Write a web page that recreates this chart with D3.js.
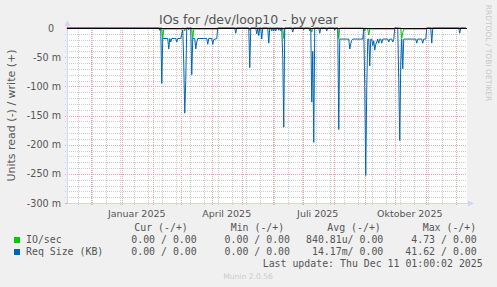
<!DOCTYPE html>
<html lang="de">
<head>
  <meta charset="UTF-8">
  <title>IOs for /dev/loop10 - by year</title>
  <script src="https://d3js.org/d3.v7.min.js"></script>
  <style>
    html, body { margin: 0; padding: 0; background: #f0f0f0; }
    svg { display: block; }
    text { font-family: "DejaVu Sans", sans-serif; fill: #555; }
    .mono { font-family: "DejaVu Sans Mono", monospace; font-size: 9.9px; white-space: pre; }
  </style>
</head>
<body>
<svg id="chart" width="497" height="287"></svg>
<script>
  // --- données (valeurs en milli-unités, côté lecture = négatif) ---
  const ioSec = [
    ["2024-11-07", 0], ["2025-02-10", 0], ["2025-02-11", -18], ["2025-02-12", -1.7],
    ["2025-03-02", -1.7], ["2025-03-03", 0], ["2025-03-04", 0], ["2025-03-05", -5],
    ["2025-03-06", 0], ["2025-03-12", 0], ["2025-03-13", -18], ["2025-03-14", -1.7],
    ["2025-04-06", -1.7], ["2025-04-07", 0], ["2025-05-08", 0], ["2025-05-09", -4],
    ["2025-05-10", 0], ["2025-06-11", 0], ["2025-06-12", -18], ["2025-06-13", 0],
    ["2025-07-09", 0], ["2025-07-10", -7], ["2025-07-11", 0], ["2025-08-05", 0],
    ["2025-08-06", -18], ["2025-08-07", 0], ["2025-08-31", 0], ["2025-09-01", -5],
    ["2025-09-02", 0], ["2025-09-04", -1.7], ["2025-09-05", -12], ["2025-09-06", -1.7],
    ["2025-09-30", -1.7], ["2025-10-01", 0], ["2025-10-07", 0], ["2025-10-08", -18],
    ["2025-10-09", -8], ["2025-10-10", -1.7], ["2025-11-01", -1.7], ["2025-11-02", 0],
    ["2025-12-11", 0]
  ];

  const reqSize = [
    ["2024-11-07", 0], ["2025-02-07", 0], ["2025-02-08", -4], ["2025-02-09", 0],
    ["2025-02-10", -95], ["2025-02-11", -18], ["2025-02-16", -18], ["2025-02-17", -36],
    ["2025-02-18", -18], ["2025-02-19", -24], ["2025-02-20", -18], ["2025-02-24", -18],
    ["2025-02-25", -24], ["2025-02-26", -18], ["2025-03-01", -18], ["2025-03-03", -3],
    ["2025-03-04", -60], ["2025-03-05", -146], ["2025-03-06", -90], ["2025-03-07", 0],
    ["2025-03-08", 0], ["2025-03-09", -3], ["2025-03-10", 0], ["2025-03-11", 0],
    ["2025-03-12", -80], ["2025-03-13", -18], ["2025-03-15", -18], ["2025-03-16", -36],
    ["2025-03-17", -24], ["2025-03-18", -18], ["2025-03-27", -18], ["2025-03-28", -28],
    ["2025-03-29", -18], ["2025-04-01", -18], ["2025-04-02", -28], ["2025-04-03", -20],
    ["2025-04-06", -18], ["2025-04-07", 0], ["2025-04-24", 0], ["2025-04-25", -9],
    ["2025-04-26", 0], ["2025-05-08", 0], ["2025-05-09", -68], ["2025-05-10", 0],
    ["2025-05-15", 0], ["2025-05-16", -10], ["2025-05-17", 0], ["2025-05-18", -13],
    ["2025-05-19", 0], ["2025-05-20", 0], ["2025-05-21", -19], ["2025-05-22", 0],
    ["2025-05-27", 0], ["2025-05-28", -26], ["2025-05-29", 0], ["2025-05-30", 0],
    ["2025-05-31", -5], ["2025-06-01", 0], ["2025-06-02", -5], ["2025-06-03", 0],
    ["2025-06-04", -5], ["2025-06-05", 0], ["2025-06-06", 0], ["2025-06-07", -4],
    ["2025-06-08", 0], ["2025-06-09", -5], ["2025-06-10", 0], ["2025-06-11", -50],
    ["2025-06-12", -170], ["2025-06-13", 0], ["2025-06-20", 0], ["2025-06-21", -7],
    ["2025-06-22", 0], ["2025-07-01", 0], ["2025-07-02", -3], ["2025-07-03", 0],
    ["2025-07-07", 0], ["2025-07-08", -5], ["2025-07-09", 0], ["2025-07-10", -127],
    ["2025-07-11", -40], ["2025-07-12", -196], ["2025-07-13", 0], ["2025-07-17", 0],
    ["2025-07-18", -9], ["2025-07-19", 0], ["2025-07-24", 0], ["2025-07-25", -5],
    ["2025-07-26", 0], ["2025-08-01", 0], ["2025-08-02", -4], ["2025-08-03", 0],
    ["2025-08-05", 0], ["2025-08-06", -174], ["2025-08-07", -19], ["2025-08-16", -19],
    ["2025-08-17", -36], ["2025-08-18", -27], ["2025-08-19", -21], ["2025-08-20", -19],
    ["2025-08-30", -19], ["2025-08-31", 0], ["2025-09-01", -100], ["2025-09-02", -253],
    ["2025-09-03", -100], ["2025-09-04", -19], ["2025-09-05", -19], ["2025-09-06", -65],
    ["2025-09-07", -19], ["2025-09-08", -19], ["2025-09-09", -30], ["2025-09-10", -22],
    ["2025-09-11", -38], ["2025-09-12", -28], ["2025-09-13", -24], ["2025-09-14", -19],
    ["2025-09-15", -26], ["2025-09-16", -19], ["2025-09-17", -19], ["2025-09-18", -26],
    ["2025-09-19", -19], ["2025-09-24", -19], ["2025-09-25", -24], ["2025-09-26", -19],
    ["2025-09-28", -19], ["2025-09-29", -24], ["2025-09-30", -20], ["2025-10-01", 0],
    ["2025-10-04", 0], ["2025-10-05", -90], ["2025-10-06", -193], ["2025-10-07", -60],
    ["2025-10-08", -19], ["2025-10-09", -70], ["2025-10-10", -19], ["2025-10-22", -19],
    ["2025-10-23", -26], ["2025-10-24", -19], ["2025-10-28", -19], ["2025-10-29", -26],
    ["2025-10-30", -19], ["2025-11-01", -19], ["2025-11-02", 0], ["2025-11-06", 0],
    ["2025-11-07", -26], ["2025-11-08", 0], ["2025-12-04", 0], ["2025-12-05", -9],
    ["2025-12-06", 0], ["2025-12-11", 0]
  ];

  const yTicks = [0, -50, -100, -150, -200, -250, -300];
  const yTickLabels = ["0", "-50 m", "-100 m", "-150 m", "-200 m", "-250 m", "-300 m"];
  const xLabelMonths = ["2025-01-01", "2025-04-01", "2025-07-01", "2025-10-01"];
  const xLabels = ["Januar 2025", "April 2025", "Juli 2025", "Oktober 2025"];

  const legendHeaders = ["Cur (-/+)", "Min (-/+)", "Avg (-/+)", "Max (-/+)"];
  const legendNames = ["IO/sec", "Req Size (KB)"];
  const legendColors = ["#00cc00", "#0066b3"];
  const legendValues = [
    ["0.00 / 0.00", "0.00 / 0.00", "840.81u/ 0.00", "4.73 / 0.00"],
    ["0.00 / 0.00", "0.00 / 0.00", "14.17m/ 0.00", "41.62 / 0.00"]
  ];

  // --- mise en page ---
  const plot = {left: 67, right: 467, top: 28, bottom: 203};
  const parse = d3.utcParse("%Y-%m-%d");
  const tStart = new Date(Date.UTC(2024, 10, 7, 6));
  const tEnd = new Date(Date.UTC(2025, 11, 12, 6));

  const x = d3.scaleUtc().domain([tStart, tEnd]).range([plot.left, plot.right]);
  const y = d3.scaleLinear().domain([-300, 0]).range([plot.bottom, plot.top]);

  const svg = d3.select("#chart");

  svg.append("rect")
     .attr("x", plot.left).attr("y", plot.top)
     .attr("width", plot.right - plot.left).attr("height", plot.bottom - plot.top)
     .attr("fill", "#fff");

  const grid = svg.append("g").attr("shape-rendering", "crispEdges");
  const minorColor = "#cdcdcd";
  const majorColor = "#eaa6a6";

  // grille mineure horizontale (10 m)
  const minorY = d3.range(-290, 0, 10).filter(v => v % 50 !== 0);
  grid.selectAll(".hmin").data(minorY).enter().append("line")
      .attr("x1", plot.left - 2).attr("x2", plot.right)
      .attr("y1", d => Math.round(y(d)) + 0.5).attr("y2", d => Math.round(y(d)) + 0.5)
      .attr("stroke", minorColor).attr("stroke-dasharray", "1,1");

  // grille mineure verticale (toutes les deux semaines, le lundi)
  const firstMonday = new Date(Date.UTC(2024, 10, 18));
  const minorX = d3.utcDays(firstMonday, tEnd, 14);
  grid.selectAll(".vmin").data(minorX).enter().append("line")
      .attr("x1", d => Math.round(x(d)) + 0.5).attr("x2", d => Math.round(x(d)) + 0.5)
      .attr("y1", plot.top).attr("y2", plot.bottom + 2)
      .attr("stroke", minorColor).attr("stroke-dasharray", "1,1");

  // grille majeure
  grid.selectAll(".hmaj").data(yTicks.slice(1, -1)).enter().append("line")
      .attr("x1", plot.left - 2).attr("x2", plot.right)
      .attr("y1", d => Math.round(y(d)) + 0.5).attr("y2", d => Math.round(y(d)) + 0.5)
      .attr("stroke", majorColor).attr("stroke-dasharray", "1,1");

  const months = d3.utcMonth.range(tStart, tEnd);
  grid.selectAll(".vmaj").data(months).enter().append("line")
      .attr("x1", d => Math.round(x(d)) + 0.5).attr("x2", d => Math.round(x(d)) + 0.5)
      .attr("y1", plot.top).attr("y2", plot.bottom + 3)
      .attr("stroke", majorColor).attr("stroke-dasharray", "1,1");

  grid.append("line")
      .attr("x1", plot.left - 2).attr("x2", plot.left)
      .attr("y1", y(-300) + 0.5).attr("y2", y(-300) + 0.5)
      .attr("stroke", majorColor);

  // axes
  const axisColor = "#cfd6f8";
  svg.append("line")
     .attr("x1", plot.left + 0.5).attr("x2", plot.left + 0.5)
     .attr("y1", plot.top - 4).attr("y2", plot.bottom + 1)
     .attr("stroke", axisColor);
  svg.append("line")
     .attr("x1", plot.left).attr("x2", plot.right + 2)
     .attr("y1", plot.bottom + 0.5).attr("y2", plot.bottom + 0.5)
     .attr("stroke", axisColor);
  svg.append("path")
     .attr("d", `M${plot.left - 2.5},${plot.top - 2} L${plot.left + 3.5},${plot.top - 2} L${plot.left + 0.5},${plot.top - 8} Z`)
     .attr("fill", axisColor);
  svg.append("path")
     .attr("d", `M${plot.right + 1},${plot.bottom - 2.5} L${plot.right + 1},${plot.bottom + 3.5} L${plot.right + 7},${plot.bottom + 0.5} Z`)
     .attr("fill", axisColor);

  // courbes
  const line = d3.line()
                 .x(d => x(parse(d[0])))
                 .y(d => y(d[1]));

  svg.append("path").datum(ioSec)
     .attr("d", line).attr("fill", "none")
     .attr("stroke", "#00cc00").attr("stroke-width", 1);

  svg.append("path").datum(reqSize)
     .attr("d", line).attr("fill", "none")
     .attr("stroke", "#0066b3").attr("stroke-width", 1);

  // ligne zéro
  svg.append("line")
     .attr("x1", plot.left).attr("x2", plot.right)
     .attr("y1", y(0) + 0.5).attr("y2", y(0) + 0.5)
     .attr("stroke", "#000").attr("shape-rendering", "crispEdges");

  // étiquettes Y
  svg.selectAll(".ylab").data(yTicks).enter().append("text")
     .attr("x", (d, i) => i === 0 ? 54 : 61)
     .attr("y", d => y(d) + 3.5)
     .attr("text-anchor", "end")
     .style("font-size", "9.6px")
     .text((d, i) => yTickLabels[i]);

  // étiquettes X (au milieu du mois)
  svg.selectAll(".xlab").data(xLabelMonths).enter().append("text")
     .attr("x", d => x(d3.utcDay.offset(parse(d), 15)))
     .attr("y", 216.5)
     .attr("text-anchor", "middle")
     .style("font-size", "9.5px")
     .text((d, i) => xLabels[i]);

  // titres
  svg.append("text")
     .attr("x", 248.5).attr("y", 23.5)
     .attr("text-anchor", "middle")
     .style("font-size", "12.5px")
     .text("IOs for /dev/loop10 - by year");

  svg.append("text")
     .attr("transform", `translate(14.5,${(plot.top + plot.bottom) / 2}) rotate(-90)`)
     .attr("text-anchor", "middle")
     .style("font-size", "11px")
     .text("Units read (-) / write (+)");

  svg.append("text")
     .attr("transform", "translate(485.5,53) rotate(90)")
     .attr("text-anchor", "middle")
     .style("font-size", "7.5px")
     .style("fill", "#c8c8c8")
     .text("RRDTOOL / TOBI OETIKER");

  // légende
  const headerX = [134.3, 230.7, 327.3, 422.7];
  const valueEndX = [196.7, 290, 383.3, 476.7];

  svg.selectAll(".lhead").data(legendHeaders).enter().append("text")
     .attr("class", "mono")
     .attr("x", (d, i) => headerX[i]).attr("y", 231)
     .text(d => d);

  legendNames.forEach((name, r) => {
    const baseY = 243 + r * 12;
    svg.append("rect")
       .attr("x", 14).attr("y", baseY - 6).attr("width", 6).attr("height", 6)
       .attr("fill", legendColors[r]);
    svg.append("text").attr("class", "mono")
       .attr("x", 26).attr("y", baseY).text(name);
    svg.selectAll(".lv" + r).data(legendValues[r]).enter().append("text")
       .attr("class", "mono")
       .attr("x", (d, i) => valueEndX[i]).attr("y", baseY)
       .attr("text-anchor", "end")
       .text(d => d);
  });

  svg.append("text").attr("class", "mono")
     .attr("x", 482.7).attr("y", 267.3)
     .attr("text-anchor", "end")
     .text("Last update: Thu Dec 11 01:00:02 2025");

  svg.append("text")
     .attr("x", 248).attr("y", 279)
     .attr("text-anchor", "middle")
     .style("font-size", "7.6px")
     .style("fill", "#cccccc")
     .text("Munin 2.0.56");
</script>
</body>
</html>
